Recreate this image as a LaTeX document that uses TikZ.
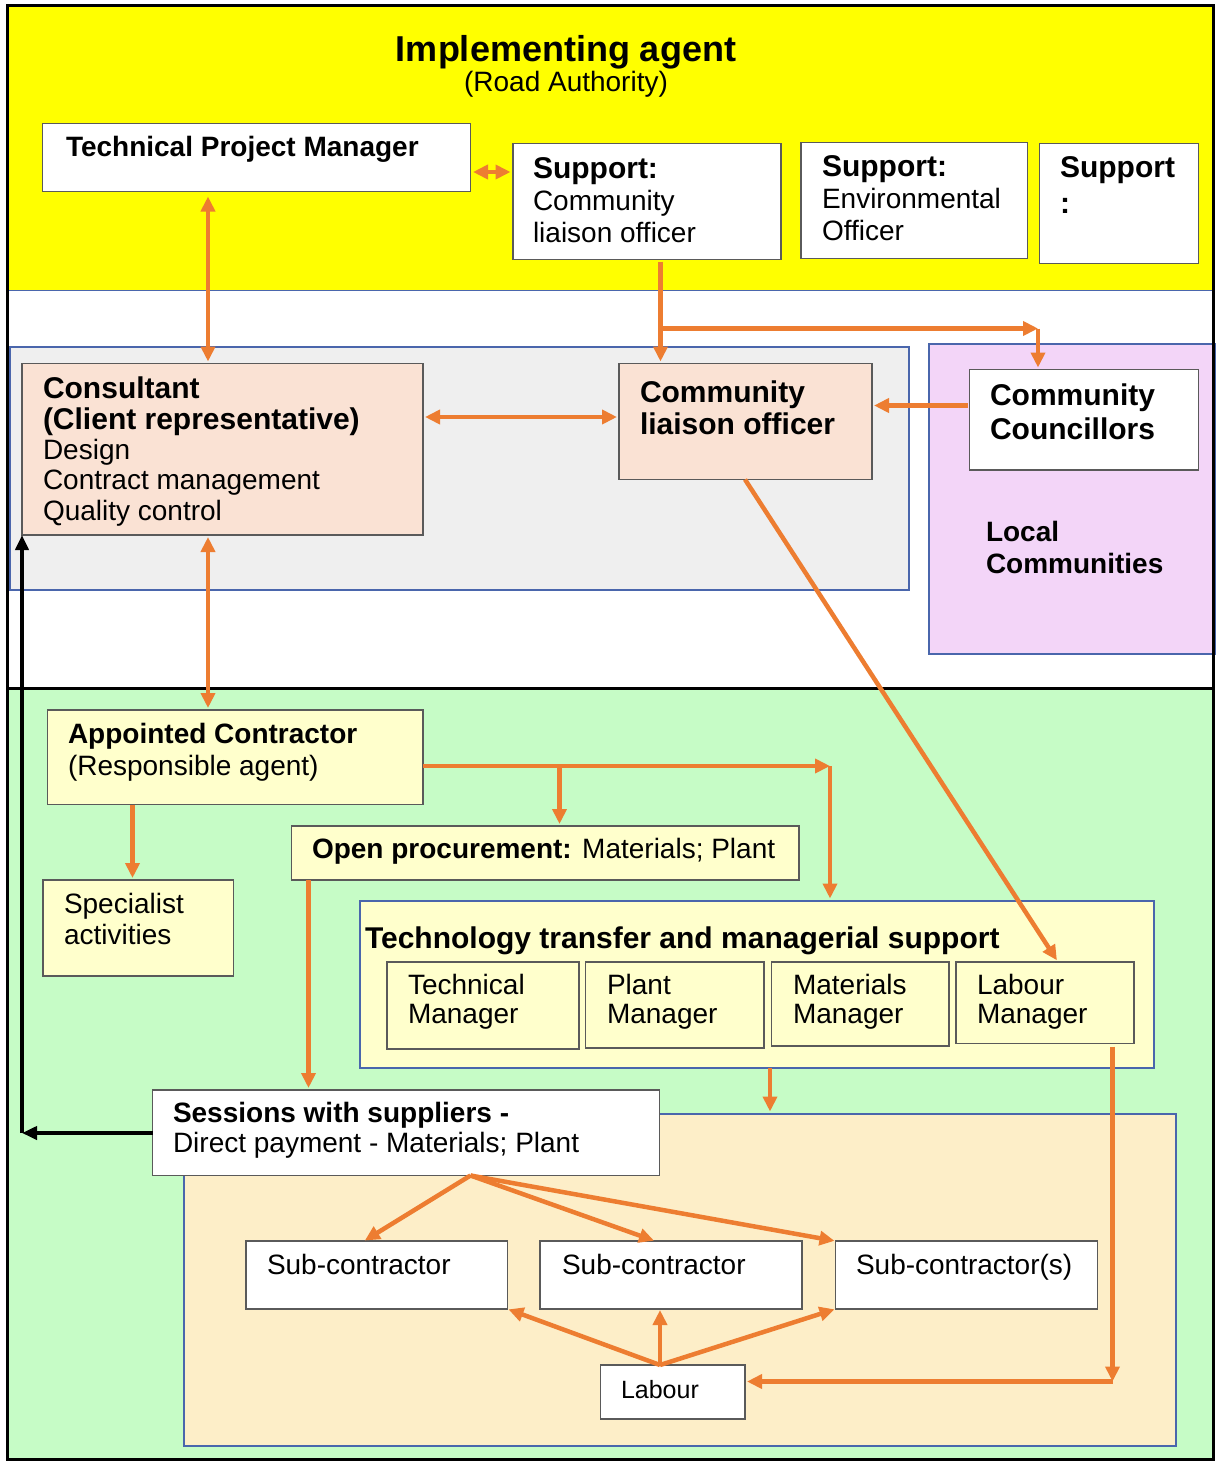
\documentclass[tikz,border=0pt]{standalone}
\usepackage{fontspec}
\setmainfont{Liberation Sans}
\usetikzlibrary{arrows.meta}
\definecolor{ylw}{HTML}{FFFF00}
\definecolor{grayreg}{HTML}{EFEFEF}
\definecolor{purp}{HTML}{F3D5F8}
\definecolor{grn}{HTML}{C6FCC6}
\definecolor{peach}{HTML}{FAE2D4}
\definecolor{lyel}{HTML}{FFFFCC}
\definecolor{cream}{HTML}{FDEEC8}
\definecolor{orng}{HTML}{ED7D31}
\definecolor{blueb}{HTML}{4A66AC}
\definecolor{boxg}{HTML}{5A5A5A}
\tikzset{
  rbox/.style={draw=boxg, line width=1.5pt, inner sep=0pt, outer sep=0pt, anchor=north west},
  cbox/.style={draw=blueb, line width=2pt, inner sep=0pt, outer sep=0pt, anchor=north west},
  txt/.style={anchor=base west, inner sep=0pt, outer sep=0pt, align=left},
  oarr/.style={draw=orng, line width=4.5pt, -{Triangle[length=15pt,width=14pt]}},
  obi/.style={draw=orng, line width=4.5pt, {Triangle[length=15pt,width=14pt]}-{Triangle[length=15pt,width=14pt]}},
  barr/.style={draw=black, line width=4pt, -{Triangle[length=15pt,width=13pt]}},
}
\begin{document}
\begin{tikzpicture}[x=1pt,y=-1pt]
\useasboundingbox (0,0) rectangle (1215,1461);
\fill[white] (0,0) rectangle (1215,1461);
% regions
\fill[ylw] (8,7) rectangle (1212,290.5);
\draw[blueb, line width=1.5pt] (8,290.5) -- (1212,290.5);
\draw[blueb, line width=2pt, fill=grayreg] (10,346.5) rectangle (909,589.5);
\draw[blueb, line width=2pt, fill=purp] (929,344) rectangle (1216,653.5);
\fill[grn] (8,688) rectangle (1212,1459);
\draw[black, line width=3pt] (8,688) -- (1213,688);
\draw[black, line width=3pt] (7,6) rectangle (1213,1459);

% containers
\node[cbox, fill=lyel, minimum width=794pt, minimum height=167.5pt] (tech) at (360,900.5) {};
\node[cbox, fill=cream, minimum width=992pt, minimum height=332.5pt] (subreg) at (184,1113.5) {};

% boxes
\node[rbox, fill=white, minimum width=428pt, minimum height=68pt] (tpm) at (42.5,123.5) {};
\node[rbox, fill=white, minimum width=268pt, minimum height=116pt] (sclo) at (513,143.5) {};
\node[rbox, fill=white, minimum width=226.5pt, minimum height=116pt] (env) at (801,142.5) {};
\node[rbox, fill=white, minimum width=159pt, minimum height=120pt] (sup) at (1039.5,143.5) {};
\node[rbox, fill=peach, minimum width=401pt, minimum height=171.5pt] (cons) at (22,363.5) {};
\node[rbox, fill=peach, minimum width=253pt, minimum height=116pt] (clo) at (619,363.5) {};
\node[rbox, fill=white, minimum width=229pt, minimum height=100.5pt] (coun) at (969.5,369.5) {};
\node[rbox, fill=lyel, minimum width=375.5pt, minimum height=94.5pt] (appt) at (47.5,710) {};
\node[rbox, fill=lyel, minimum width=190.5pt, minimum height=96pt] (spec) at (43,880) {};
\node[rbox, fill=lyel, minimum width=507.5pt, minimum height=54pt] (open) at (291.5,826) {};
\node[rbox, fill=lyel, minimum width=192pt, minimum height=87pt] (tm) at (387,962) {};
\node[rbox, fill=lyel, minimum width=178.5pt, minimum height=86pt] (pm) at (585.5,962) {};
\node[rbox, fill=lyel, minimum width=177.5pt, minimum height=84pt] (mm) at (771.5,962) {};
\node[rbox, fill=lyel, minimum width=178pt, minimum height=81.5pt] (labm) at (956,962) {};
\node[rbox, fill=white, minimum width=507pt, minimum height=85.5pt] (sess) at (152.5,1090) {};
\node[rbox, fill=white, minimum width=261.5pt, minimum height=68pt] (sub1) at (246,1241) {};
\node[rbox, fill=white, minimum width=262pt, minimum height=68pt] (sub2) at (540,1241) {};
\node[rbox, fill=white, minimum width=262pt, minimum height=68pt] (subs) at (835.5,1241) {};
\node[rbox, fill=white, minimum width=144.5pt, minimum height=54pt] (labour) at (600.5,1365) {};

% texts (multi-line nodes are placed at the baseline of their last line)
\node[anchor=base, inner sep=0pt, font=\bfseries\fontsize{36}{40}\selectfont] (title) at (566,62) {Implementing agent};
\node[anchor=base, inner sep=0pt, font=\fontsize{28}{32}\selectfont] (titlesub) at (566,92) {(Road Authority)};
\node[txt, font=\bfseries\fontsize{28}{32}\selectfont] (t_tpm) at (66,157) {Technical Project Manager};
\node[txt, font=\fontsize{28}{32}\selectfont] (t_sclo) at (533,242) {{\fontsize{30}{32}\selectfont\bfseries Support:}\\Community\\liaison officer};
\node[txt, font=\fontsize{28}{32}\selectfont] (t_env) at (822,240) {{\fontsize{30}{32}\selectfont\bfseries Support:}\\Environmental\\Officer};
\node[txt, font=\bfseries\fontsize{30}{36}\selectfont] (t_sup) at (1060,213) {Support\\:};
\node[txt, font=\fontsize{28}{30.3}\selectfont] (t_cons) at (43,520) {{\fontsize{30}{32}\selectfont\bfseries Consultant}\\{\fontsize{30}{32}\selectfont\bfseries (Client representative)}\\Design\\Contract management\\Quality control};
\node[txt, font=\bfseries\fontsize{30}{32}\selectfont] (t_clo) at (640,434) {Community\\liaison officer};
\node[txt, font=\bfseries\fontsize{30}{34}\selectfont] (t_coun) at (990,439) {Community\\Councillors};
\node[txt, font=\bfseries\fontsize{28}{32}\selectfont] (t_local) at (986,573) {Local\\Communities};
\node[txt, font=\fontsize{28}{32}\selectfont] (t_appt) at (68,775) {{\bfseries Appointed Contractor}\\(Responsible agent)};
\node[txt, font=\fontsize{28}{31}\selectfont] (t_spec) at (64,944) {Specialist\\activities};
\node[txt, font=\fontsize{28}{31}\selectfont] (t_open) at (312,858) {{\bfseries Open procurement:} Materials; Plant};
\node[txt, font=\bfseries\fontsize{30}{32}\selectfont] (t_tech) at (365,948) {Technology transfer and managerial support};
\node[txt, font=\fontsize{28}{29.5}\selectfont] (t_tm) at (408,1023.5) {Technical\\Manager};
\node[txt, font=\fontsize{28}{29.5}\selectfont] (t_pm) at (607,1023.5) {Plant\\Manager};
\node[txt, font=\fontsize{28}{29.5}\selectfont] (t_mm) at (793,1023.5) {Materials\\Manager};
\node[txt, font=\fontsize{28}{29.5}\selectfont] (t_lm) at (977,1023.5) {Labour\\Manager};
\node[txt, font=\fontsize{28}{30}\selectfont] (t_sess) at (173,1152) {{\bfseries Sessions with suppliers -}\\Direct payment - Materials; Plant};
\node[txt, font=\fontsize{28}{30}\selectfont] (t_sub1) at (267,1274) {Sub-contractor};
\node[txt, font=\fontsize{28}{30}\selectfont] (t_sub2) at (562,1274) {Sub-contractor};
\node[txt, font=\fontsize{28}{30}\selectfont] (t_subs) at (856,1274) {Sub-contractor(s)};
\node[txt, font=\fontsize{25}{28}\selectfont] (t_lab) at (621,1398) {Labour};

% helper coordinates
\coordinate (vA) at (208,0);
\coordinate (vB) at (660.5,0);
\coordinate (vC) at (745,0);
\coordinate (vD) at (1058,0);
\coordinate (vE) at (132.5,0);
\coordinate (vF) at (308.5,0);
\coordinate (vG) at (770,0);
\coordinate (vH) at (364,0);
\coordinate (vI) at (655,0);
\coordinate (hA) at (0,172);
\coordinate (hB) at (0,417);
\coordinate (hC) at (0,405.5);
\coordinate (hD) at (0,766);
\coordinate (hE) at (0,1133);
\coordinate (b1) at (660.5,328.5);
\coordinate (c4) at (1038,328.5);
\coordinate (b2) at (559.5,766);
\coordinate (c1) at (830,766);
\coordinate (c2) at (1112.5,1381.5);
\coordinate (c3) at (22,1133);
\coordinate (fo) at (470.5,1175.5);
\coordinate (fl) at (660,1365);

% connectors
\draw[obi, shorten <=2.5pt, shorten >=2.5pt] (tpm.east |- hA) -- (sclo.west |- hA);
\draw[obi, shorten <=5pt, shorten >=2pt] (tpm.south -| vA) -- (cons.north -| vA);
\draw[oarr, shorten <=2pt, shorten >=2pt] (sclo.south -| vB) -- (clo.north -| vB);
\draw[oarr] (b1) -- (c4);
\draw[oarr, shorten >=2pt] (c4) -- (coun.north -| c4);
\draw[obi, shorten <=2pt, shorten >=2pt] (cons.east |- hB) -- (clo.west |- hB);
\draw[oarr, shorten <=2pt, shorten >=2pt] (coun.west |- hC) -- (clo.east |- hC);
\draw[oarr, shorten >=2pt] (clo.south -| vC) -- (labm.north -| vD);
\draw[obi, shorten <=2pt, shorten >=2pt] (cons.south -| vA) -- (appt.north -| vA);
\draw[oarr, shorten >=2pt] (appt.south -| vE) -- (spec.north -| vE);
\draw[oarr] (appt.east |- hD) -- (c1);
\draw[oarr, shorten >=2pt] (c1) -- (tech.north -| c1);
\draw[oarr, shorten >=2pt] (b2) -- (open.north -| b2);
\draw[oarr, shorten >=2pt] (open.south -| vF) -- (sess.north -| vF);
\draw[oarr, shorten >=2pt] (tech.south -| vG) -- (subreg.north -| vG);
\draw[oarr, shorten <=3pt] (labm.south -| c2) -- (c2);
\draw[oarr, shorten >=2pt] (c2) -- (labour.east |- c2);
\draw[oarr, shorten >=1pt] (fo) -- (sub1.north -| vH);
\draw[oarr, shorten >=1pt] (fo) -- (sub2.north -| vI);
\draw[oarr, shorten >=1pt] (fo) -- (subs.north west);
\draw[oarr, shorten >=1pt] (fl) -- (sub1.south east);
\draw[oarr, shorten >=1pt] (fl) -- (sub2.south -| fl);
\draw[oarr, shorten >=1pt] (fl) -- (subs.south west);
\draw[barr] (sess.west |- hE) -- (c3);
\draw[barr] (c3) -- (cons.south west);
\end{tikzpicture}
\end{document}
